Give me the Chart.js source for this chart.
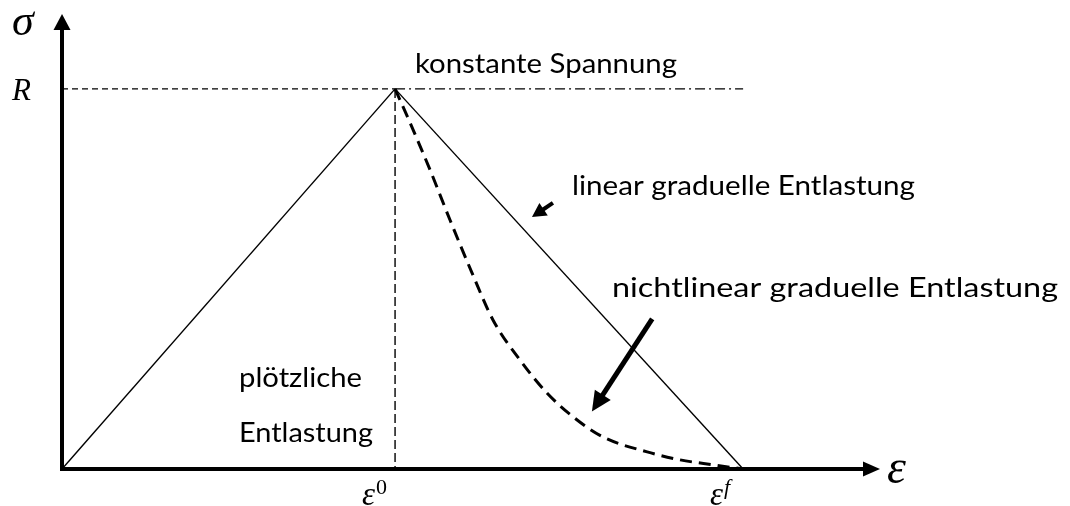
<!DOCTYPE html>
<html>
<head>
<meta charset="utf-8">
<script src="https://cdn.jsdelivr.net/npm/chart.js@4/dist/chart.umd.min.js"></script>
<style>
  html, body { margin: 0; padding: 0; background: #ffffff; }
  #wrap { width: 1070px; height: 506px; }
</style>
</head>
<body>
<div id="wrap"><canvas id="chart" width="1070" height="506"></canvas></div>
<script>
// Strain in units of ε⁰, stress in units of R
const EPS0 = 1.0;
const EPSF = 2.045;
const R = 1.0;
const X_MAX = 2.456;
const Y_MAX = 1.197;

// Loading branch and linear softening branch
const loadingEps = [0, EPS0];
const loadingSig = [0, R];
const linearEps = [EPS0, EPSF];
const linearSig = [R, 0];

// Nonlinear softening branch (read point by point)
const nonlinearEps = [1.000, 1.045, 1.105, 1.165, 1.231, 1.294, 1.375, 1.456, 1.535, 1.625, 1.757, 1.856, 1.955, 2.045];
const nonlinearSig = [1.000, 0.911, 0.787, 0.655, 0.516, 0.392, 0.287, 0.200, 0.137, 0.084, 0.045, 0.024, 0.011, 0.000];

// Sudden unloading at ε⁰, reference line at R and constant stress plateau
const suddenEps = [EPS0, EPS0];
const suddenSig = [R, 0];
const refEps = [0, EPS0];
const refSig = [R, R];
const plateauEps = [EPS0, EPSF];
const plateauSig = [R, R];

// Axis tick labels
const xTickValues = [EPS0, EPSF];
const xTickBase = ['ε', 'ε'];
const xTickSup = ['0', 'f'];
const yTickValues = [R];
const yTickLabels = ['R'];

// Annotation texts
const labelPlateau = 'konstante Spannung';
const labelLinear = 'linear graduelle Entlastung';
const labelNonlinear = 'nichtlinear graduelle Entlastung';
const labelSudden = ['plötzliche', 'Entlastung'];

const pts = (xs, ys) => xs.map((x, i) => ({ x: x, y: ys[i] }));

const base = { pointRadius: 0, pointHoverRadius: 0, fill: false, borderColor: '#000', clip: false, tension: 0 };

const sketch = {
  id: 'sketch',
  afterDatasetsDraw(chart) {
    const ctx = chart.ctx;
    const xs = chart.scales.x, ys = chart.scales.y;
    const px = v => xs.getPixelForValue(v);
    const py = v => ys.getPixelForValue(v);
    const x0 = px(0), y0 = py(0), xEnd = px(X_MAX), yEnd = py(Y_MAX);

    ctx.save();
    ctx.fillStyle = '#000';
    ctx.strokeStyle = '#000';

    // axes with arrow heads
    ctx.lineWidth = 4;
    ctx.lineCap = 'butt';
    ctx.beginPath();
    ctx.moveTo(x0, y0 + 2);
    ctx.lineTo(x0, yEnd + 14);
    ctx.moveTo(x0 - 2, y0);
    ctx.lineTo(xEnd - 16, y0);
    ctx.stroke();
    ctx.beginPath();
    ctx.moveTo(x0, yEnd);
    ctx.lineTo(x0 - 8.5, yEnd + 16);
    ctx.lineTo(x0 + 8.5, yEnd + 16);
    ctx.closePath();
    ctx.fill();
    ctx.beginPath();
    ctx.moveTo(xEnd, y0);
    ctx.lineTo(xEnd - 17, y0 - 7.5);
    ctx.lineTo(xEnd - 17, y0 + 7.5);
    ctx.closePath();
    ctx.fill();

    // pointer arrows
    const arrow = (ax, ay, bx, by, w, headLen, headW) => {
      const X1 = px(ax), Y1 = py(ay), X2 = px(bx), Y2 = py(by);
      const ang = Math.atan2(Y2 - Y1, X2 - X1);
      const bxp = X2 - headLen * Math.cos(ang), byp = Y2 - headLen * Math.sin(ang);
      ctx.lineWidth = w;
      ctx.beginPath();
      ctx.moveTo(X1, Y1);
      ctx.lineTo(bxp + Math.cos(ang), byp + Math.sin(ang));
      ctx.stroke();
      ctx.beginPath();
      ctx.moveTo(X2, Y2);
      ctx.lineTo(bxp + headW / 2 * Math.sin(ang), byp - headW / 2 * Math.cos(ang));
      ctx.lineTo(bxp - headW / 2 * Math.sin(ang), byp + headW / 2 * Math.cos(ang));
      ctx.closePath();
      ctx.fill();
    };
    arrow(1.474, 0.700, 1.411, 0.663, 4, 14, 15);
    arrow(1.772, 0.395, 1.591, 0.151, 5, 20, 19);

    // sans-serif labels, stretched horizontally to their width
    const sans = 'Lato, "Open Sans", "Liberation Sans", sans-serif';
    const fitText = (txt, left, baseline, width, size) => {
      ctx.font = size + 'px ' + sans;
      const w = ctx.measureText(txt).width;
      ctx.save();
      ctx.translate(left, baseline);
      ctx.scale(width / w, 1);
      ctx.textAlign = 'left';
      ctx.textBaseline = 'alphabetic';
      ctx.fillText(txt, 0, 0);
      ctx.restore();
    };
    fitText(labelPlateau, 415, 73, 262, 27);
    fitText(labelLinear, 572, 195, 343, 27);
    fitText(labelNonlinear, 612, 297, 446, 27);
    fitText(labelSudden[0], 239, 387, 123, 27);
    fitText(labelSudden[1], 239, 442, 134, 27);

    // math symbols
    const serifI = 'italic ';
    const serif = '"Liberation Serif", "DejaVu Serif", serif';
    ctx.textAlign = 'left';
    ctx.textBaseline = 'alphabetic';
    ctx.font = serifI + '44px ' + serif;
    ctx.fillText('σ', 12, 35);
    ctx.font = serifI + '48px ' + serif;
    ctx.fillText('ε', 887, 483);
    ctx.font = serifI + '31px ' + serif;
    yTickValues.forEach((v, i) => {
      ctx.fillText(yTickLabels[i], 12, py(v) + 11);
    });
    xTickValues.forEach((v, i) => {
      ctx.font = serifI + '33px ' + serif;
      const bx = px(v) - 33;
      ctx.fillText(xTickBase[i], bx, 505);
      const w = ctx.measureText(xTickBase[i]).width;
      ctx.font = (i === 0 ? '' : serifI) + '22px ' + serif;
      ctx.fillText(xTickSup[i], bx + w + 1, 494);
    });

    ctx.restore();
  }
};

new Chart(document.getElementById('chart'), {
  type: 'line',
  data: {
    datasets: [
      Object.assign({}, base, { data: pts(loadingEps, loadingSig), borderWidth: 1.4 }),
      Object.assign({}, base, { data: pts(linearEps, linearSig), borderWidth: 1.4 }),
      Object.assign({}, base, { data: pts(nonlinearEps, nonlinearSig), borderWidth: 3, borderDash: [12, 7], cubicInterpolationMode: 'monotone' }),
      Object.assign({}, base, { data: pts(suddenEps, suddenSig), borderWidth: 1.4, borderDash: [9, 4] }),
      Object.assign({}, base, { data: pts(refEps, refSig), borderWidth: 1.2, borderDash: [6, 4] }),
      Object.assign({}, base, { data: pts(plateauEps, plateauSig), borderWidth: 1.2, borderDash: [10, 4, 2, 4] })
    ]
  },
  options: {
    responsive: false,
    animation: false,
    events: [],
    layout: { padding: { left: 62, right: 190, top: 14, bottom: 37 } },
    plugins: { legend: { display: false }, tooltip: { enabled: false }, title: { display: false } },
    scales: {
      x: { type: 'linear', min: 0, max: X_MAX, display: false },
      y: { type: 'linear', min: 0, max: Y_MAX, display: false }
    }
  },
  plugins: [sketch]
});
</script>
</body>
</html>
